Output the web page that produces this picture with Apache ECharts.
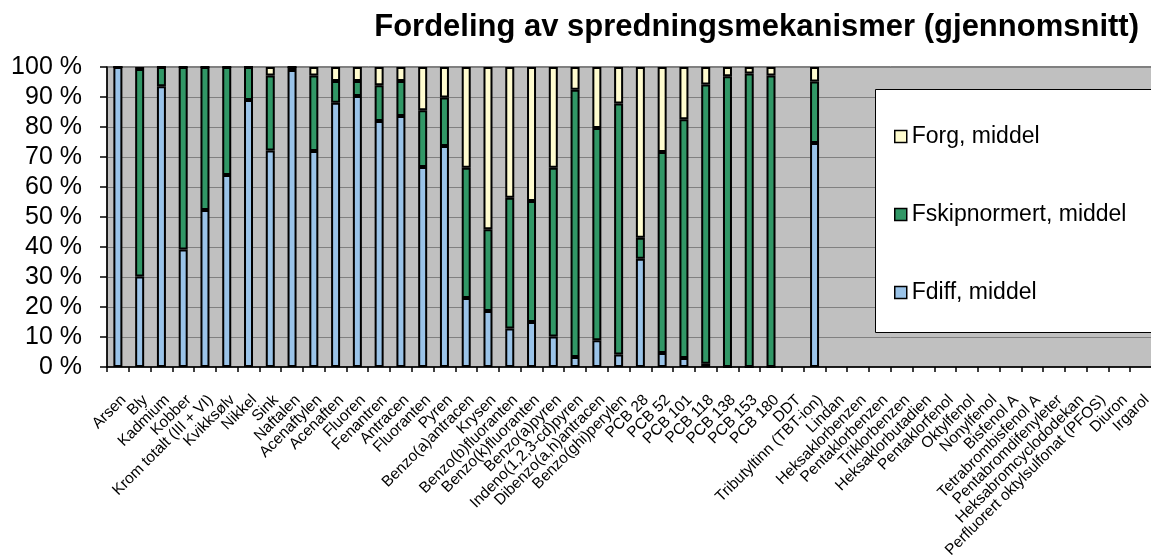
<!DOCTYPE html>
<html>
<head>
<meta charset="utf-8">
<script src="https://cdn.jsdelivr.net/npm/echarts@6/dist/echarts.min.js"></script>
<style>
html,body{margin:0;padding:0;background:#fff;}
#chart{width:1151px;height:558px;}
</style>
</head>
<body>
<div id="chart"></div>
<script>
const categories = ["Arsen","Bly","Kadmium","Kobber","Krom totalt (III + VI)","Kvikksølv","Nikkel","Sink","Naftalen","Acenaftylen","Acenaften","Fluoren","Fenantren","Antracen","Fluoranten","Pyren","Benzo(a)antracen","Krysen","Benzo(b)fluoranten","Benzo(k)fluoranten","Benzo(a)pyren","Indeno(1,2,3-cd)pyren","Dibenzo(a,h)antracen","Benzo(ghi)perylen","PCB 28","PCB 52","PCB 101","PCB 118","PCB 138","PCB 153","PCB 180","DDT","Tributyltinn (TBT-ion)","Lindan","Heksaklorbenzen","Pentaklorbenzen","Triklorbenzen","Heksaklorbutadien","Pentaklorfenol","Oktylfenol","Nonylfenol","Bisfenol A","Tetrabrombisfenol A","Pentabromdifenyleter","Heksabromcyclododekan","Perfluorert oktylsulfonat (PFOS)","Diuron","Irgarol"];

const fdiff = [100,30.2,93.6,39.2,52.3,64,89,72.2,99,72,88.1,90.3,82,83.7,66.7,73.7,23,18.7,12.8,15,10.2,3.3,8.9,4.2,36.1,4.7,3,1.1,0,0,0,null,74.7,null,null,null,null,null,null,null,null,null,null,null,null,null,null,null];
const fskip = [0,69.1,6.4,60.8,47.7,36,11,25,1,25.2,7.2,5,11.9,11.6,18.9,16.1,43.4,27.2,43.6,40.3,56.2,89.1,70.8,83.6,7,67,79.6,93.1,96.9,97.8,97.2,null,20.5,null,null,null,null,null,null,null,null,null,null,null,null,null,null,null];
const forg = [0,0.7,0,0,0,0,0,2.8,0,2.8,4.7,4.7,6.1,4.7,14.4,10.2,33.6,54.1,43.6,44.7,33.6,7.6,20.3,12.2,56.9,28.3,17.4,5.8,3.1,2.2,2.8,null,4.8,null,null,null,null,null,null,null,null,null,null,null,null,null,null,null];

const seriesNames = ["Fdiff, middel","Fskipnormert, middel","Forg, middel"];
const yTicks = [0,10,20,30,40,50,60,70,80,90,100];
const titleText = "Fordeling av spredningsmekanismer (gjennomsnitt)";

const colors = {fdiff:"#9AC3E8", fskip:"#319766", forg:"#FFFCCF"};
const FONT = "'Liberation Sans', Arial, sans-serif";

function barSeries(name, data, color){
  return {
    name: name, type: "bar", stack: "total", data: data,
    barWidth: 9,
    itemStyle: {color: color, borderColor: "#000", borderWidth: 2},
    emphasis: {disabled: true},
    animation: false
  };
}

const chart = echarts.init(document.getElementById("chart"));
chart.setOption({
  animation: false,
  textStyle: {fontFamily: FONT},
  title: {
    text: titleText, right: 7, top: 7,
    textStyle: {fontFamily: FONT, fontSize: 31, fontWeight: "bold", color: "#000"}
  },
  grid: {
    left: 107, top: 67, width: 1045, height: 300,
    show: true, backgroundColor: "#C0C0C0", borderColor: "#000", borderWidth: 1,
    containLabel: false, outerBoundsMode: "none"
  },
  xAxis: {
    type: "category", data: categories,
    axisLine: {lineStyle: {color: "#000", width: 1.5}},
    axisTick: {show: true, length: 5, lineStyle: {color: "#000", width: 1.5}},
    axisLabel: {interval: 0, rotate: 45, fontSize: 15.5, color: "#000", margin: 25,
      align: "right", verticalAlign: "top", fontFamily: FONT},
    splitLine: {show: false}
  },
  yAxis: {
    type: "value", min: yTicks[0], max: yTicks[yTicks.length-1], interval: 10,
    axisLine: {show: true, lineStyle: {color: "#000", width: 1.5}},
    axisTick: {show: true, length: 7, lineStyle: {color: "#000", width: 1.5}},
    axisLabel: {formatter: "{value} %", fontSize: 25, color: "#000", margin: 25, fontFamily: FONT},
    splitLine: {show: true, lineStyle: {color: "#808080", width: 1}}
  },
  legend: {
    data: [seriesNames[2], seriesNames[1], seriesNames[0]],
    orient: "vertical", left: 889, top: 120, itemGap: 55,
    icon: "rect", itemWidth: 12, itemHeight: 12, itemStyle: {borderColor: "#000", borderWidth: 1.5},
    textStyle: {fontSize: 23, color: "#000", fontFamily: FONT},
    selectedMode: false, z: 10
  },
  graphic: {elements: [{
    type: "rect", left: 875, top: 89, z: 5,
    shape: {width: 290, height: 243},
    style: {fill: "#fff", stroke: "#000", lineWidth: 1}
  }]},
  series: [
    barSeries(seriesNames[0], fdiff, colors.fdiff),
    barSeries(seriesNames[1], fskip, colors.fskip),
    barSeries(seriesNames[2], forg, colors.forg)
  ]
});
</script>
</body>
</html>
